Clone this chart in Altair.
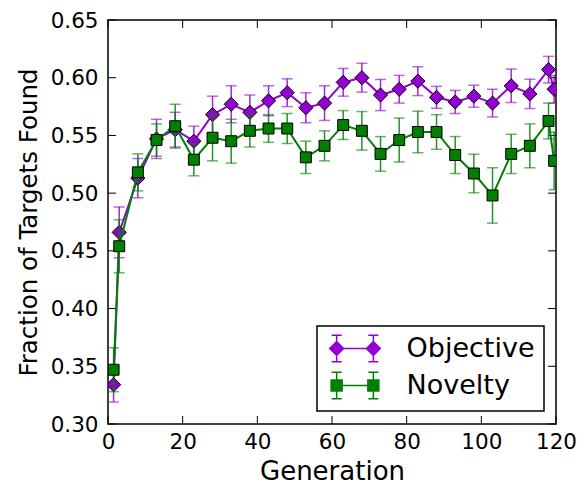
import altair as alt
import pandas as pd

# ---------------- data ----------------
generations = [1.5, 3, 8, 13, 18, 23, 28, 33, 38, 43, 48, 53, 58, 63, 68, 73,
               78, 83, 88, 93, 98, 103, 108, 113, 118, 119.5]

objective_mean = [0.334, 0.466, 0.513, 0.547, 0.555, 0.545, 0.568, 0.577, 0.570,
                  0.580, 0.587, 0.574, 0.578, 0.596, 0.600, 0.585, 0.590, 0.597,
                  0.583, 0.579, 0.584, 0.578, 0.593, 0.586, 0.607, 0.590]
objective_err = [0.015, 0.022, 0.017, 0.017, 0.015, 0.013, 0.016, 0.016, 0.015,
                 0.013, 0.012, 0.013, 0.015, 0.012, 0.0125, 0.0135, 0.012, 0.0125,
                 0.0095, 0.010, 0.0095, 0.012, 0.0145, 0.0127, 0.0115, 0.012]

novelty_mean = [0.347, 0.454, 0.518, 0.546, 0.558, 0.529, 0.548, 0.545, 0.554,
                0.556, 0.556, 0.531, 0.541, 0.559, 0.554, 0.534, 0.546, 0.553,
                0.553, 0.533, 0.517, 0.498, 0.534, 0.541, 0.5625, 0.528]
novelty_err = [0.019, 0.023, 0.016, 0.014, 0.019, 0.014, 0.020, 0.019, 0.014,
               0.012, 0.013, 0.014, 0.013, 0.0125, 0.0167, 0.015, 0.019, 0.018,
               0.015, 0.016, 0.0167, 0.024, 0.017, 0.019, 0.0155, 0.025]

series_names = ["Objective", "Novelty"]
series_colors = ["#9400D3", "#008000"]
x_ticks = [0, 20, 40, 60, 80, 100, 120]
y_ticks = [0.30, 0.35, 0.40, 0.45, 0.50, 0.55, 0.60, 0.65]

rows = []
for name, means, errs in [("Objective", objective_mean, objective_err),
                          ("Novelty", novelty_mean, novelty_err)]:
    for g, m, e in zip(generations, means, errs):
        rows.append({"series": name, "gen": g, "mean": m, "lo": m - e, "hi": m + e})
df = pd.DataFrame(rows)
xt_df = pd.DataFrame({"t": x_ticks})
yt_df = pd.DataFrame({"t": y_ticks})

W, H = 448, 404
TICK = 8

xscale = alt.Scale(domain=[0, 120], nice=False, zero=False)
yscale = alt.Scale(domain=[0.30, 0.65], nice=False, zero=False)
xaxis = alt.Axis(values=x_ticks, format="d", title="Generation", labelFontSize=21.5,
                 titleFontSize=26, labelPadding=7, titlePadding=6, ticks=False,
                 tickSize=0, domain=False, grid=False, labelFlush=False)
yaxis = alt.Axis(values=y_ticks, format=".2f", title="Fraction of Targets Found",
                 labelFontSize=21.5, titleFontSize=24.5, labelPadding=10, titlePadding=9,
                 ticks=False, tickSize=0, domain=False, grid=False, labelFlush=False,
                 labelOffset=1)


def X(field):
    return alt.X(field, type="quantitative", scale=xscale, axis=xaxis)


def Y(field):
    return alt.Y(field, type="quantitative", scale=yscale, axis=yaxis)


def series_layers(name, color, shape, size):
    base = alt.Chart(df).transform_filter(alt.datum.series == name)
    bars = base.mark_rule(color=color, strokeWidth=1.5, opacity=0.85, clip=True).encode(
        x=X("gen"), y=Y("lo"), y2="hi:Q")
    cap_lo = base.mark_tick(color=color, orient="horizontal", size=11, thickness=1.5,
                            opacity=0.6, clip=True).encode(x=X("gen"), y=Y("lo"))
    cap_hi = base.mark_tick(color=color, orient="horizontal", size=11, thickness=1.5,
                            opacity=0.6, clip=True).encode(x=X("gen"), y=Y("hi"))
    line = base.mark_line(color=color, strokeWidth=2, clip=True).encode(
        x=X("gen"), y=Y("mean"))
    pts = base.mark_point(shape=shape, filled=True, fill=color, stroke="black",
                          strokeWidth=1, size=size, opacity=1, clip=True).encode(
        x=X("gen"), y=Y("mean"))
    return [line, bars, cap_lo, cap_hi, pts]


# inward tick marks on all four sides (positions come from the tick lists through the scales)
xt = alt.Chart(xt_df)
yt = alt.Chart(yt_df)
tick_layers = [
    xt.mark_rule(color="black", strokeWidth=1).encode(x=X("t"), y=alt.value(H - TICK), y2=alt.value(H)),
    xt.mark_rule(color="black", strokeWidth=1).encode(x=X("t"), y=alt.value(0), y2=alt.value(TICK)),
    yt.mark_rule(color="black", strokeWidth=1).encode(y=Y("t"), x=alt.value(0), x2=alt.value(TICK)),
    yt.mark_rule(color="black", strokeWidth=1).encode(y=Y("t"), x=alt.value(W - TICK), x2=alt.value(W)),
]


def legend_path(kind):
    c = 1.53
    parts = ["M%.2f,0L%.2f,0" % (-c, c)]
    for cx in (-c, c):
        parts.append("M%.2f,-1.1L%.2f,1.1M%.2f,-1.1L%.2f,-1.1M%.2f,1.1L%.2f,1.1" %
                     (cx, cx, cx - 0.42, cx + 0.42, cx - 0.42, cx + 0.42))
        if kind == "diamond":
            parts.append("M%.2f,0L%.2f,-0.58L%.2f,0L%.2f,0.58Z" %
                         (cx - 0.58, cx, cx + 0.58, cx))
        else:
            parts.append("M%.2f,-0.46L%.2f,-0.46L%.2f,0.46L%.2f,0.46Z" %
                         (cx - 0.46, cx + 0.46, cx + 0.46, cx - 0.46))
    return "".join(parts)


legend_layer = alt.Chart(df).transform_filter("false").mark_point(
    filled=True, size=576, opacity=1).encode(
    x=X("gen"), y=Y("mean"),
    fill=alt.Fill("series:N", scale=alt.Scale(domain=series_names, range=series_colors),
                  legend=alt.Legend(title=None)),
    stroke=alt.Stroke("series:N", scale=alt.Scale(domain=series_names, range=series_colors),
                      legend=alt.Legend(title=None)),
    shape=alt.Shape("series:N", scale=alt.Scale(domain=series_names,
                                                range=[legend_path("diamond"), legend_path("square")]),
                    legend=alt.Legend(title=None)),
)

layers = (tick_layers
          + series_layers("Objective", series_colors[0], "diamond", 200)
          + series_layers("Novelty", series_colors[1], "square", 120)
          + [legend_layer])

chart = alt.layer(*layers).properties(
    width=W, height=H,
    autosize=alt.AutoSizeParams(type="none"),
    padding={"left": 100, "top": 12, "right": 20, "bottom": 62},
).configure_view(
    stroke="black", strokeWidth=1.5
).configure_axis(
    labelFont="DejaVu Sans", titleFont="DejaVu Sans", labelColor="black",
    titleColor="black", titleFontWeight="normal"
).configure_legend(
    orient="none", legendX=209, legendY=306, padding=9, strokeColor="black",
    strokeWidth=1.5, fillColor="white", labelFont="DejaVu Sans", labelFontSize=27,
    labelColor="black", rowPadding=4, symbolOffset=15.5, labelOffset=38,
    symbolStrokeWidth=1.5, cornerRadius=0, symbolSize=576
)

chart.save("out.html", embed_options={"renderer": "svg", "actions": False})
